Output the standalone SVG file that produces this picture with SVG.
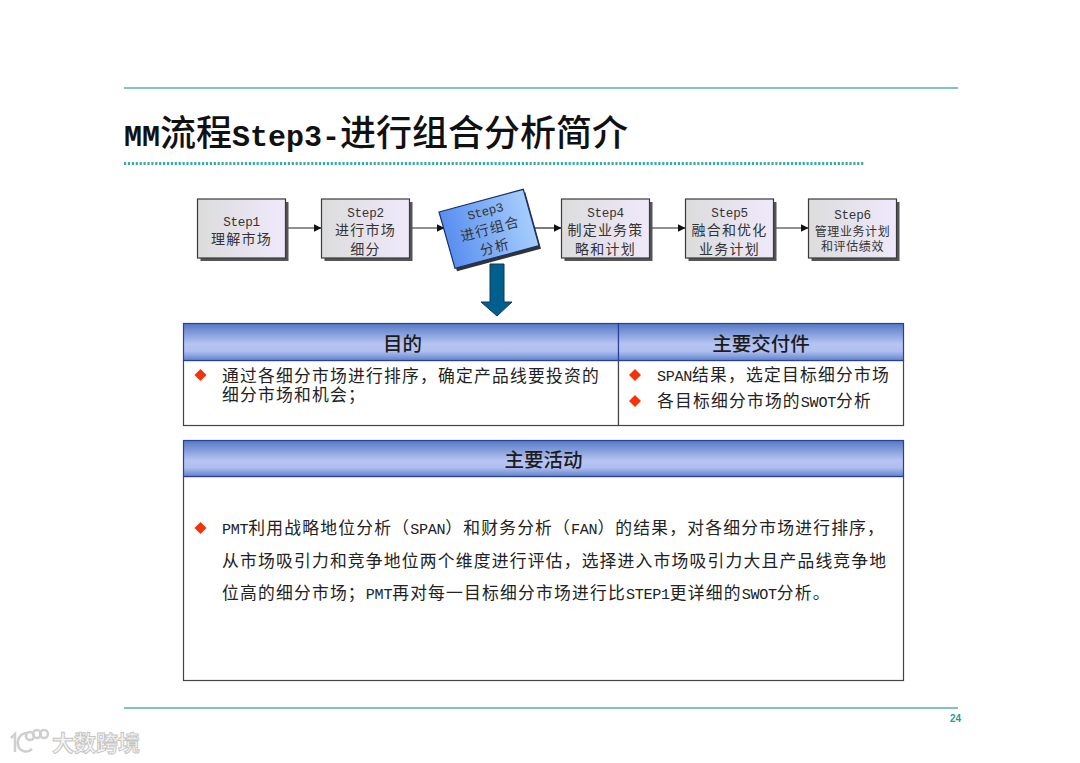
<svg xmlns="http://www.w3.org/2000/svg" width="1080" height="763" viewBox="0 0 1080 763">
<style>
text{font-family:"Noto Sans CJK SC","Liberation Sans",sans-serif;fill:#1c1c1c}
.l{font-family:"Liberation Mono","Noto Sans CJK SC",monospace;font-size:.9em;letter-spacing:-.02em}
.s{font-size:14px;letter-spacing:1.2px;text-anchor:middle;fill:#333}
.s2{font-size:12px;letter-spacing:.6px;text-anchor:middle;fill:#333}
.box{fill:url(#g);stroke:#3a3a3a;stroke-width:1.2}
.sh{fill:#555}
.h{fill:url(#hd);stroke:#2a3f9a;stroke-width:1.2}
.ht{font-size:19.5px;font-weight:500;text-anchor:middle}
.b{font-size:16.800px;letter-spacing:1.2px;fill:#222}
.b2{font-size:16.800px;letter-spacing:1.22px;fill:#222}
.body{fill:#fff;stroke:#444;stroke-width:1.2}
.d{fill:#f5330a}
.rule{stroke:#55b0aa;stroke-width:1.5;fill:none}
.con{stroke:#222;stroke-width:1.2;fill:none;marker-end:url(#a)}
.tl{font-family:"Liberation Mono",monospace;font-size:30px;letter-spacing:0}
</style>
<defs>
<linearGradient id="g" x1="0" x2="1" y1="0" y2="0"><stop offset="0" stop-color="#dcdcdc"/><stop offset="1" stop-color="#efe9fb"/></linearGradient>
<linearGradient id="g3" x1="0" x2="1" y1="0.2" y2="0"><stop offset="0" stop-color="#5a8ff0"/><stop offset="1" stop-color="#b2d8ff"/></linearGradient>
<linearGradient id="hd" x1="0" x2="0" y1="0" y2="1"><stop offset="0" stop-color="#5478c4"/><stop offset=".55" stop-color="#b6c4f2"/><stop offset=".75" stop-color="#b0bff0"/><stop offset="1" stop-color="#5f83cc"/></linearGradient>
<marker id="a" viewBox="0 0 8 8" refX="7.500" refY="4" markerWidth="8" markerHeight="8" markerUnits="userSpaceOnUse" orient="auto"><path d="M0 0L8 4L0 8Z" fill="#111"/></marker>
</defs>
<rect width="1080" height="763" fill="#fff"/>

<g id="rules">
<line class="rule" x1="124" y1="88" x2="958" y2="88"/>
<line x1="124" y1="163.500" x2="864" y2="163.500" stroke="#3fa9a5" stroke-width="3" stroke-dasharray="2.200 1.700"/>
<line class="rule" x1="124" y1="708" x2="958" y2="708"/>
</g>
<text id="title" x="124" y="146" font-size="36" font-weight="500" style="fill:#111"><tspan class="tl" font-weight="700">MM</tspan>流程<tspan class="tl" font-weight="700">Step3-</tspan>进行组合分析简介</text>

<g id="connectors">
<line class="con" x1="286" y1="228" x2="321" y2="228"/>
<line class="con" x1="410" y1="228" x2="444" y2="228"/>
<line class="con" x1="534" y1="228" x2="561" y2="228"/>
<line class="con" x1="650" y1="228" x2="685" y2="228"/>
<line class="con" x1="773" y1="228" x2="808" y2="228"/>
</g>

<g id="step1"><rect class="sh" x="200.500" y="202" width="88" height="59"/><rect class="box" x="197.500" y="199" width="88" height="59"/>
<text class="s" x="241.500" y="226"><tspan class="l">Step1</tspan></text><text class="s" x="241.500" y="244">理解市场</text></g>
<g id="step2"><rect class="sh" x="324.500" y="202" width="88" height="59"/><rect class="box" x="321.500" y="199" width="88" height="59"/>
<text class="s" x="365.500" y="217"><tspan class="l">Step2</tspan></text><text class="s" x="365.500" y="235">进行市场</text><text class="s" x="365.500" y="254">细分</text></g>
<g id="step3"><polygon points="441,215 525.300,192.300 541,248.700 457,271.300" fill="#333"/><polygon points="439,212 523.300,189.300 539,245.700 455,268.300" fill="url(#g3)" stroke="#16306a" stroke-width="1.200"/>
<g transform="rotate(-15 489 229)"><text class="s" x="490" y="215"><tspan class="l">Step3</tspan></text><text class="s" x="490" y="234">进行组合</text><text class="s" x="490" y="253">分析</text></g></g>
<g id="step4"><rect class="sh" x="564.500" y="202" width="88" height="59"/><rect class="box" x="561.500" y="199" width="88" height="59"/>
<text class="s" x="605.500" y="217"><tspan class="l">Step4</tspan></text><text class="s" x="605.500" y="235">制定业务策</text><text class="s" x="605.500" y="254">略和计划</text></g>
<g id="step5"><rect class="sh" x="688.500" y="202" width="88" height="59"/><rect class="box" x="685.500" y="199" width="88" height="59"/>
<text class="s" x="729.500" y="217"><tspan class="l">Step5</tspan></text><text class="s" x="729.500" y="235">融合和优化</text><text class="s" x="729.500" y="254">业务计划</text></g>
<g id="step6"><rect class="sh" x="811.500" y="202" width="88" height="59"/><rect class="box" x="808.500" y="199" width="88" height="59"/>
<text class="s" x="852.500" y="219"><tspan class="l">Step6</tspan></text><text class="s2" x="852.500" y="236">管理业务计划</text><text class="s2" x="852.500" y="251">和评估绩效</text></g>

<g id="down-arrow"><polygon points="490,264 504,264 504,302 512,302 497,316 481,302 490,302" fill="#005f8e" stroke="#12364f" stroke-width="1"/></g>

<g id="purpose">
<rect class="body" x="183.500" y="360.500" width="435" height="65"/>
<rect class="h" x="183.500" y="323.500" width="435" height="37"/>
<text class="ht" x="402.500" y="351">目的</text>
<polygon class="d" points="200.500,369 206.500,375 200.500,381 194.500,375"/>
<text class="b2"><tspan x="222" y="381.500">通过各细分市场进行排序，确定产品线要投资的</tspan><tspan x="222" y="401">细分市场和机会；</tspan></text>
</g>
<g id="deliverables">
<rect class="body" x="618.500" y="360.500" width="285" height="65"/>
<rect class="h" x="618.500" y="323.500" width="285" height="37"/>
<text class="ht" x="761" y="351">主要交付件</text>
<polygon class="d" points="635,369 641,375 635,381 629,375"/>
<text class="b" x="657" y="381"><tspan class="l">SPAN</tspan>结果，选定目标细分市场</text>
<polygon class="d" points="635,395 641,401 635,407 629,401"/>
<text class="b" x="657" y="407">各目标细分市场的<tspan class="l">SWOT</tspan>分析</text>
</g>
<g id="activities">
<rect class="body" x="183.500" y="476.500" width="720" height="204"/>
<rect class="h" x="183.500" y="440.500" width="720" height="36"/>
<text class="ht" x="543.500" y="467">主要活动</text>
<polygon class="d" points="200.500,522 206.500,528 200.500,534 194.500,528"/>
<text class="b" x="222" y="534"><tspan class="l">PMT</tspan>利用战略地位分析（<tspan class="l">SPAN</tspan>）和财务分析（<tspan class="l">FAN</tspan>）的结果，对各细分市场进行排序，</text>
<text class="b" x="222" y="567">从市场吸引力和竞争地位两个维度进行评估，选择进入市场吸引力大且产品线竞争地</text>
<text class="b" x="222" y="599">位高的细分市场；<tspan class="l">PMT</tspan>再对每一目标细分市场进行比<tspan class="l">STEP1</tspan>更详细的<tspan class="l">SWOT</tspan>分析。</text>
</g>
<text id="page" x="950" y="722" font-size="10" font-weight="700" style="font-family:'Liberation Sans',sans-serif;fill:#2a9a96">24</text>
<g id="watermark" fill="none" stroke="#cfcfcf" stroke-width="2.500">
<path d="M11 738L15 734V752M28 733C20 733 17 739 18 745C19 751 27 754 32 749"/>
<circle cx="30" cy="736" r="4"/><circle cx="37" cy="734" r="4"/><circle cx="44" cy="734" r="4"/>
<text x="52" y="751" font-size="22" font-weight="700" style="fill:#f4f4f4;stroke:#c4c4c4;stroke-width:.9">大数跨境</text>
</g>
</svg>
